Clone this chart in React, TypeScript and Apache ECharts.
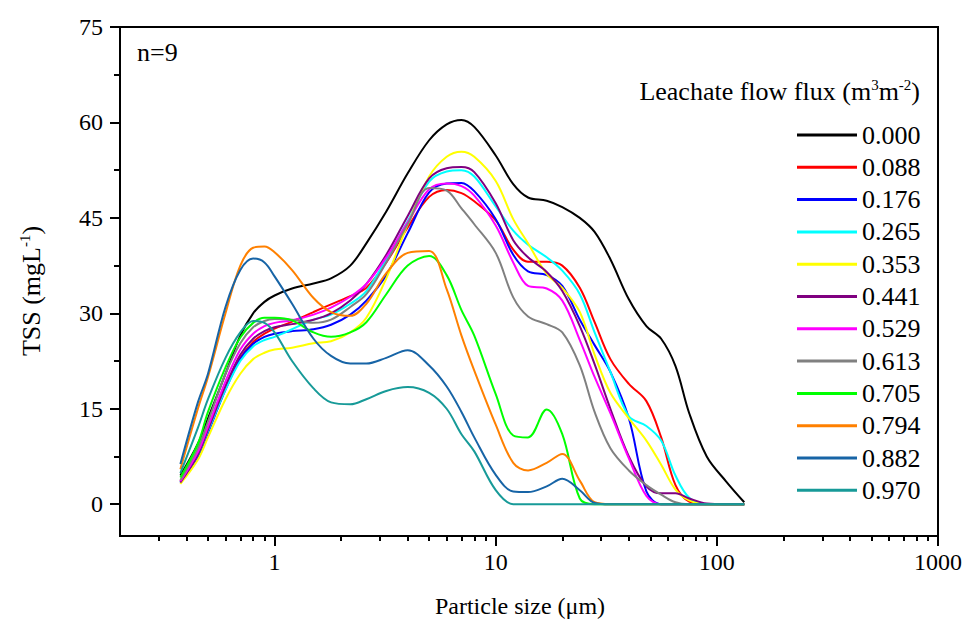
import React, { useEffect, useRef } from "react";
import * as echarts from "echarts";

const FONT = '"Liberation Serif", "Times New Roman", serif';

// Particle size (µm) sampling positions shared by all curves
const sizes = [0.375, 0.45, 0.5, 0.6, 0.7, 0.8, 0.9, 1, 1.2, 1.5, 1.8, 2.2, 2.6, 3.2, 4, 5, 6, 7, 8, 10, 12, 14, 17, 20, 24, 28, 33, 40, 48, 56, 65, 75, 90, 110, 133];

// Leachate flow flux (m3 m-2) labels
const fluxLabels = ["0.000", "0.088", "0.176", "0.265", "0.353", "0.441", "0.529", "0.613", "0.705", "0.794", "0.882", "0.970"];

// TSS (mg/L) per flux
const tss000 = [4.5, 9.5, 13.5, 20.5, 26.5, 30, 31.8, 32.8, 33.9, 34.7, 35.5, 37.5, 41, 46, 52, 57.2, 59.7, 60.4, 59.3, 54.8, 50.3, 48.2, 47.7, 46.7, 45, 42.8, 38.5, 32.2, 28, 26, 21.7, 14.3, 7.5, 3.6, 0.3];
const tss088 = [3.6, 8, 11.8, 18.5, 23, 25.5, 26.8, 27.6, 28.7, 30.2, 31.4, 32.7, 34, 38, 43.5, 48.3, 49.4, 48.9, 47.6, 44.6, 40, 38.1, 38.1, 37.5, 34, 28.6, 22.8, 18.9, 16.2, 10.5, 3, 0.4, 0, 0, 0];
const tss176 = [3.4, 7.5, 11.2, 18, 22.8, 25.2, 26.3, 26.8, 27.2, 27.5, 28.2, 29.8, 32, 36, 42.6, 49, 50.4, 50.5, 49.2, 44.8, 39.2, 36.6, 36, 34.3, 29, 25, 20.8, 13.5, 2, 0, 0, 0, 0, 0, 0];
const tss265 = [3.5, 7.8, 11.5, 18, 22.5, 24.8, 25.8, 26.3, 27.5, 29, 29.8, 31.5, 33.5, 38.5, 44.5, 50.7, 52.3, 52.5, 51.5, 46.8, 43, 40.8, 38.8, 36.7, 33, 27, 20.8, 13.8, 12.3, 10, 4.5, 1, 0, 0, 0];
const tss353 = [3.2, 7, 10.5, 16.5, 20.5, 22.8, 23.8, 24.3, 24.6, 25.3, 25.6, 27, 29.3, 35.5, 44, 51.5, 54.6, 55.4, 54.6, 50.8, 44.8, 41, 36.2, 34, 30.2, 23.5, 17.5, 13.5, 10, 6.2, 2.3, 0.6, 0, 0, 0];
const tss441 = [3.4, 7.8, 11.7, 18.6, 23.5, 26, 27.2, 27.8, 28.3, 29, 30, 32, 34.6, 39.2, 45.3, 51.2, 52.8, 53, 52.2, 47.3, 41.5, 38.8, 36.5, 33.5, 28, 22, 15, 7.5, 2.8, 1.7, 1.7, 0.9, 0.1, 0, 0];
const tss529 = [3.6, 8.2, 12.2, 19.3, 24.3, 26.8, 28, 28.5, 28.9, 29.8, 30.9, 32.6, 34.6, 38.8, 44.3, 49.5, 50.4, 50, 48.5, 43.8, 38, 34.3, 33.9, 32, 25.8, 20, 14.3, 7.2, 1.3, 0, 0, 0, 0, 0, 0];
const tss613 = [3.8, 8.8, 13, 20.5, 25.3, 27.8, 28.8, 29.1, 29, 28.5, 29, 31, 33, 38, 44, 49.7, 49.3, 46.5, 44, 39.5, 32.5, 29.5, 28.3, 27, 21.8, 14.5, 8.8, 5.3, 3, 1.5, 0.3, 0, 0, 0, 0];
const tss705 = [4.2, 9.5, 14.5, 21.5, 26.2, 28.5, 29.3, 29.3, 28.9, 27, 26.3, 27, 28.6, 33, 37.5, 39, 36, 30.5, 26.5, 17.3, 10.8, 10.5, 14.9, 11, 0.9, 0, 0, 0, 0, 0, 0, 0, 0, 0, 0];
const tss794 = [5.5, 15, 20, 30, 37.5, 40.3, 40.5, 39.6, 36.8, 32.4, 30.2, 29.6, 31.5, 36.3, 39.5, 39.8, 33.8, 26.5, 21, 12.5, 6.5, 5.3, 6.5, 7.9, 3.7, 0.3, 0, 0, 0, 0, 0, 0, 0, 0, 0];
const tss882 = [6.3, 16, 20.5, 31, 36.8, 38.6, 38, 35.8, 31.5, 26, 23.3, 22.1, 22.1, 23, 24.2, 21.8, 18.5, 14.5, 10.5, 4.6, 2, 1.9, 2.8, 4, 2.2, 0.2, 0, 0, 0, 0, 0, 0, 0, 0, 0];
const tss970 = [4.9, 12, 16.5, 23, 27, 28.8, 28.5, 27, 22.5, 18.2, 16, 15.7, 16.5, 17.8, 18.4, 17.5, 15, 11, 8.3, 2.2, 0, 0, 0, 0, 0, 0, 0, 0, 0, 0, 0, 0, 0, 0, 0];

const seriesValues = [tss000, tss088, tss176, tss265, tss353, tss441, tss529, tss613, tss705, tss794, tss882, tss970];

const lineColors = ["#000000", "#FF0000", "#0000FF", "#00FFFF", "#FFFF00", "#800080", "#FF00FF", "#808080", "#00FF00", "#FF8000", "#1764A6", "#179A98"];

// Axis ticks
const xMajorTicks = [1, 10, 100, 1000];
const xMinorTicks = [0.3, 0.4, 0.5, 0.6, 0.7, 0.8, 0.9, 2, 3, 4, 5, 6, 7, 8, 9, 20, 30, 40, 50, 60, 70, 80, 90, 200, 300, 400, 500, 600, 700, 800, 900];
const yMajorTicks = [0, 15, 30, 45, 60, 75];
const yMinorTicks = [7.5, 22.5, 37.5, 52.5, 67.5];

export default function App() {
  const ref = useRef<HTMLDivElement>(null);

  useEffect(() => {
    if (!ref.current) return;
    const chart = echarts.init(ref.current, null, { renderer: "svg" });
    const black = "#000";
    const labelStyle = { fontFamily: FONT, fontSize: 24, color: black };
    const supRich = {
      a: { fontFamily: FONT, fontSize: 26, fill: black, lineHeight: 28 },
      s: { fontFamily: FONT, fontSize: 15, fill: black, verticalAlign: "top", lineHeight: 15 },
    };

    chart.setOption({
      animation: false,
      backgroundColor: "#fff",
      grid: {
        left: 120,
        right: 27,
        top: 27,
        bottom: 85,
        show: true,
        borderColor: black,
        borderWidth: 2,
        backgroundColor: "transparent",
      },
      xAxis: [
        {
          type: "log",
          logBase: 10,
          min: 0.2,
          max: 1000,
          position: "bottom",
          axisLine: { show: true, onZero: false, lineStyle: { color: black, width: 2 } },
          axisTick: { show: true, inside: false, length: 10, customValues: xMajorTicks, lineStyle: { color: black, width: 2 } },
          axisLabel: {
            show: true,
            customValues: xMajorTicks,
            margin: 14,
            ...labelStyle,
            formatter: (v: number) => String(Math.round(v)),
          },
          splitLine: { show: false },
          minorTick: { show: false },
        },
        {
          type: "log",
          logBase: 10,
          min: 0.2,
          max: 1000,
          position: "bottom",
          axisLine: { show: false, onZero: false },
          axisTick: { show: true, inside: false, length: 5, customValues: xMinorTicks, lineStyle: { color: black, width: 2 } },
          axisLabel: { show: false },
          splitLine: { show: false },
        },
      ],
      yAxis: [
        {
          type: "value",
          min: -5,
          max: 75,
          position: "left",
          axisLine: { show: true, onZero: false, lineStyle: { color: black, width: 2 } },
          axisTick: { show: true, inside: false, length: 10, customValues: yMajorTicks, lineStyle: { color: black, width: 2 } },
          axisLabel: { show: true, customValues: yMajorTicks, margin: 17, ...labelStyle },
          splitLine: { show: false },
        },
        {
          type: "value",
          min: -5,
          max: 75,
          position: "left",
          axisLine: { show: false, onZero: false },
          axisTick: { show: true, inside: false, length: 6, customValues: yMinorTicks, lineStyle: { color: black, width: 2 } },
          axisLabel: { show: false },
          splitLine: { show: false },
        },
      ],
      legend: {
        orient: "vertical",
        left: 792,
        top: 117,
        icon: "rect",
        itemWidth: 60,
        itemHeight: 3,
        itemGap: 6.3,
        selectedMode: false,
        data: fluxLabels,
        textStyle: { fontFamily: FONT, fontSize: 26, color: black, lineHeight: 26 },
      },
      graphic: [
        {
          type: "text",
          x: 137,
          y: 52,
          style: { text: "n=9", fontFamily: FONT, fontSize: 26, fill: black, align: "left", verticalAlign: "middle" },
        },
        {
          type: "text",
          x: 920,
          y: 91,
          style: {
            text: "{a|Leachate flow flux (m}{s|3}{a|m}{s|-2}{a|)}",
            fontFamily: FONT,
            fontSize: 26,
            fill: black,
            align: "right",
            verticalAlign: "middle",
            rich: supRich,
          },
        },
        {
          type: "text",
          x: 520,
          y: 606,
          style: { text: "Particle size (μm)", fontFamily: FONT, fontSize: 24, fill: black, align: "center", verticalAlign: "middle" },
        },
        {
          type: "text",
          x: 31,
          y: 291,
          rotation: Math.PI / 2,
          style: {
            text: "{a|TSS (mgL}{s|-1}{a|)}",
            fontFamily: FONT,
            fontSize: 26,
            fill: black,
            align: "center",
            verticalAlign: "middle",
            rich: supRich,
          },
        },
      ],
      series: seriesValues.map((vals, i) => ({
        name: fluxLabels[i],
        type: "line",
        xAxisIndex: 0,
        yAxisIndex: 0,
        data: sizes.map((s, j) => [s, vals[j]]),
        symbol: "none",
        smooth: 0.35,
        lineStyle: { color: lineColors[i], width: 2 },
        itemStyle: { color: lineColors[i] },
      })),
    });

    return () => chart.dispose();
  }, []);

  return (
    <div
      ref={ref}
      style={{ position: "absolute", left: 0, top: 0, width: 965, height: 621, background: "#fff" }}
    />
  );
}
